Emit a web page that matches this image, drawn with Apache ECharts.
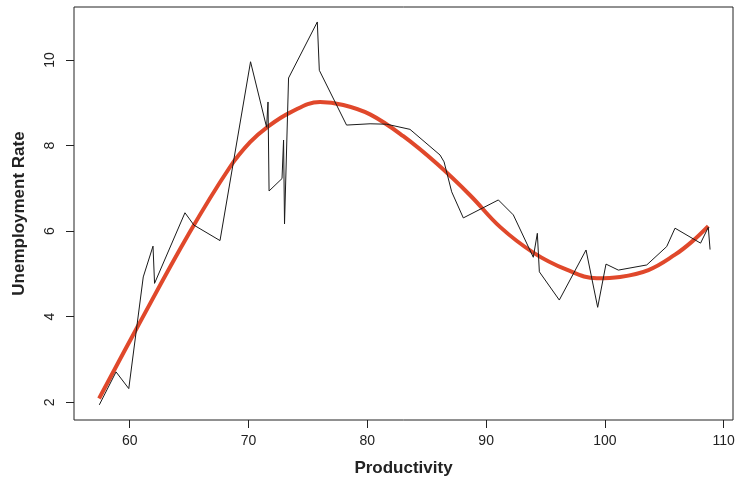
<!DOCTYPE html>
<html><head><meta charset="utf-8">
<script src="https://cdn.jsdelivr.net/npm/echarts@6/dist/echarts.min.js"></script>
<style>html,body{margin:0;padding:0;background:#fff}#c{width:740px;height:488px}</style>
</head><body><div id="c"></div>
<script>
const productivity = [57.44,58.85,59.92,61.14,61.96,62.09,64.65,65.41,67.60,70.17,71.52,71.64,71.73,72.82,72.95,73.03,73.37,75.79,75.96,78.25,80.23,81.63,83.59,86.12,86.46,87.10,88.08,91.03,92.29,93.97,94.31,94.48,96.16,98.41,99.39,100.09,101.13,103.52,105.20,105.90,108.05,108.70,108.85];
const unemployment = [1.94,2.71,2.32,4.93,5.65,4.78,6.43,6.14,5.78,9.96,8.43,9.02,6.94,7.23,8.13,6.17,9.58,10.89,9.76,8.48,8.51,8.50,8.38,7.78,7.62,6.92,6.31,6.73,6.38,5.39,5.95,5.05,4.39,5.56,4.22,5.23,5.09,5.21,5.64,6.07,5.72,6.09,5.57];
const fitProductivity = [57.42,60.59,65.0,68.44,70.13,71.53,73.49,76.02,77.98,80.23,83.03,85.84,88.65,91.17,93.97,96.78,99.31,101.27,103.66,105.9,107.3,108.7];
const fitUnemployment = [2.09,3.73,5.95,7.50,8.08,8.42,8.77,9.02,8.95,8.73,8.22,7.58,6.84,6.10,5.50,5.10,4.90,4.93,5.09,5.45,5.75,6.12];
const xTicks = [60,70,80,90,100,110];
const yTicks = [2,4,6,8,10];

const rawPairs = productivity.map((x,i)=>[x, unemployment[i]]);
const fitPairs = fitProductivity.map((x,i)=>[x, fitUnemployment[i]]);

const chart = echarts.init(document.getElementById('c'), null, {renderer:'canvas'});
const font = '"Liberation Sans", Arial, sans-serif';
chart.setOption({
  animation:false,
  backgroundColor:'#ffffff',
  grid:{left:74,right:7,top:7,bottom:68,show:true,borderColor:'#222',borderWidth:1,backgroundColor:'transparent'},
  xAxis:{
    type:'value', min:55.31, max:110.78,
    name:'Productivity', nameLocation:'middle', nameGap:40,
    nameTextStyle:{fontFamily:font,fontSize:17,fontWeight:'bold',color:'#222'},
    axisLine:{show:false},
    axisTick:{show:true,inside:false,length:8,lineStyle:{color:'#222',width:1},customValues:xTicks},
    axisLabel:{show:true,margin:14,fontFamily:font,fontSize:14,color:'#222',customValues:xTicks,showMinLabel:true,showMaxLabel:true},
    splitLine:{show:false}
  },
  yAxis:{
    type:'value', min:1.586, max:11.24,
    name:'Unemployment Rate', nameLocation:'middle', nameGap:46, nameRotate:90,
    nameTextStyle:{fontFamily:font,fontSize:17,fontWeight:'bold',color:'#222'},
    axisLine:{show:false},
    axisTick:{show:true,inside:false,length:8,lineStyle:{color:'#222',width:1},customValues:yTicks},
    axisLabel:{show:true,rotate:90,margin:17,fontFamily:font,fontSize:14,color:'#222',customValues:yTicks},
    splitLine:{show:false}
  },
  series:[
    {type:'line',data:fitPairs,smooth:0.4,showSymbol:false,lineStyle:{color:'#E0482B',width:4},z:2},
    {type:'line',data:rawPairs,smooth:false,showSymbol:false,lineStyle:{color:'#1a1a1a',width:1},z:3}
  ]
});
</script>
</body></html>
